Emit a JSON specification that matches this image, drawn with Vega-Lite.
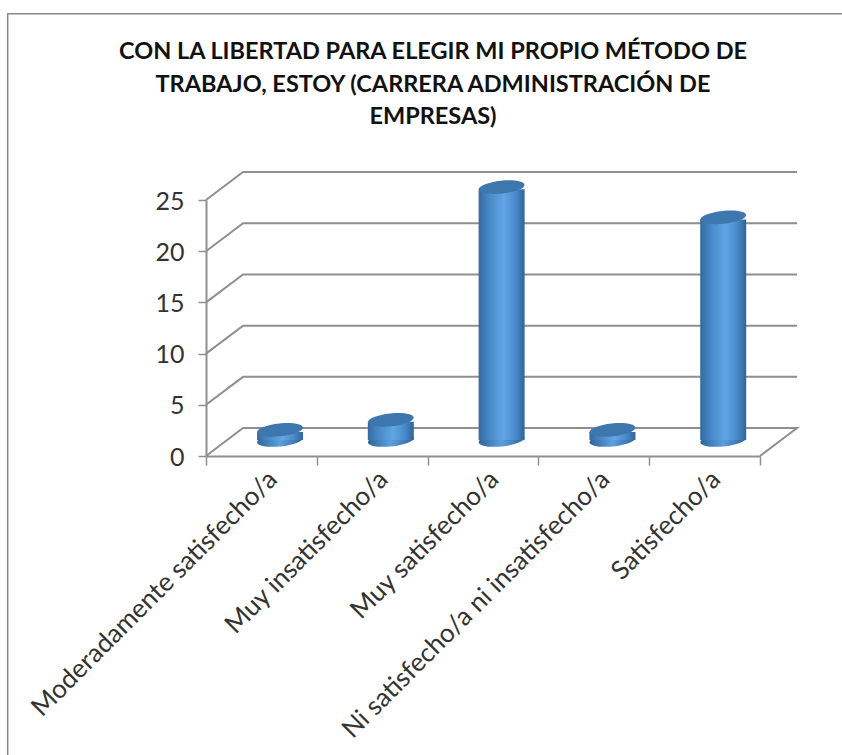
{
"$schema":"https://vega.github.io/schema/vega-lite/v6.json",
"width":554,"height":256,
"autosize":{"type":"none"},
"padding":{"left":206,"top":200,"right":82,"bottom":299},
"background":"white",
"title":{"text":["CON LA LIBERTAD PARA ELEGIR MI PROPIO MÉTODO DE","TRABAJO, ESTOY (CARRERA ADMINISTRACIÓN DE","EMPRESAS)"],"font":"Lato","fontSize":23.5,"fontWeight":"bold","color":"#111111","lineHeight":32.5,"anchor":"middle","frame":"group","dx":-50,"offset":-142,"baseline":"bottom"},
"config":{"view":{"stroke":null}},
"resolve":{"axis":{"x":"independent","y":"independent"}},
"layer":[
{"data":{"values":[{"x":-1.79,"y":-29.2},{"x":-1.79,"y":43.2},{"x":5.74,"y":43.2}]},
 "mark":{"type":"line","color":"#8a8a8a","strokeWidth":1.5,"clip":false},
 "encoding":{
  "x":{"field":"x","type":"quantitative","scale":{"domain":[0,5],"nice":false,"zero":false},
    "axis":{"title":null,"orient":"bottom","values":[0,1,2,3,4,5],"labels":false,"grid":false,"domain":true,"domainColor":"#8f8f8f","domainWidth":2,"tickColor":"#8f8f8f","tickWidth":1.5,"tickSize":9}},
  "y":{"field":"y","type":"quantitative","scale":{"domain":[0,25],"nice":false},
    "axis":{"title":null,"values":[0,5,10,15,20,25],"grid":false,"domain":true,"domainColor":"#8f8f8f","domainWidth":2,"tickColor":"#8f8f8f","tickWidth":1.5,"tickSize":8,"labelFont":"Lato","labelFontSize":25,"labelColor":"#333333","labelPadding":14,"labelOffset":1}},
  "order":{"field":"y","type":"quantitative","sort":"ascending"}
 }},
{"data":{"values":[
 {"level":0,"x":0,"y":0},{"level":0,"x":0.334,"y":2.73},{"level":0,"x":5.334,"y":2.73},{"level":0,"x":5,"y":0},
 {"level":5,"x":0,"y":5},{"level":5,"x":0.334,"y":7.73},{"level":5,"x":5.334,"y":7.73},
 {"level":10,"x":0,"y":10},{"level":10,"x":0.334,"y":12.73},{"level":10,"x":5.334,"y":12.73},
 {"level":15,"x":0,"y":15},{"level":15,"x":0.334,"y":17.73},{"level":15,"x":5.334,"y":17.73},
 {"level":20,"x":0,"y":20},{"level":20,"x":0.334,"y":22.73},{"level":20,"x":5.334,"y":22.73},
 {"level":25,"x":0,"y":25},{"level":25,"x":0.334,"y":27.73},{"level":25,"x":5.334,"y":27.73}
]},
 "mark":{"type":"line","color":"#8f8f8f","strokeWidth":2,"clip":false},
 "encoding":{
  "detail":{"field":"level"},
  "order":{"field":"__o","type":"quantitative"},
  "x":{"field":"x","type":"quantitative","axis":{"title":null,"orient":"bottom","values":[0.6,1.6,2.6,3.6,4.6],"ticks":false,"domain":false,"grid":false,"labelExpr":"['Moderadamente satisfecho/a','Muy insatisfecho/a','Muy satisfecho/a','Ni satisfecho/a ni insatisfecho/a','Satisfecho/a'][floor(datum.value)]","labelAngle":-45,"labelAlign":"right","labelBaseline":"middle","labelFont":"Lato","labelFontSize":26,"labelColor":"#333333","labelPadding":19,"labelBound":false,"labelFlush":false,"labelOverlap":false,"labelLimit":600}},
  "y":{"field":"y","type":"quantitative","axis":null}
 }},
{"data":{"name":"satisfaccion","values":[
 {"categoria":"Moderadamente satisfecho/a","orden":0,"valor":1},
 {"categoria":"Muy insatisfecho/a","orden":1,"valor":2},
 {"categoria":"Muy satisfecho/a","orden":2,"valor":25},
 {"categoria":"Ni satisfecho/a ni insatisfecho/a","orden":3,"valor":1},
 {"categoria":"Satisfecho/a","orden":4,"valor":22}
]},
 "transform":[
  {"calculate":"datum.orden+0.668","as":"xc"},
  {"calculate":"datum.xc-0.2076","as":"xl"},
  {"calculate":"datum.xc+0.2076","as":"xr"},
  {"calculate":"datum.valor*0.988+1.56","as":"tope"},
  {"calculate":"1.56","as":"base"}
 ],
 "layer":[
  {"mark":{"type":"point","filled":true,"opacity":1,"size":2116,"shape":"M-0.995 0.104A1 0.28 -6 1 1 0.995 -0.104A1 0.28 -6 1 1 -0.995 0.104Z","fill":{"gradient":"linear","x1":0,"x2":1,"y1":0,"y2":0,"stops":[{"offset":0,"color":"#2f6499"},{"offset":0.5,"color":"#5c9fdf"},{"offset":1,"color":"#2f6499"}]},"clip":false},
   "encoding":{"x":{"field":"xc","type":"quantitative","axis":null},"y":{"field":"base","type":"quantitative","axis":null}}},
  {"mark":{"type":"bar","clip":false,"fill":{"gradient":"linear","x1":0,"x2":1,"y1":0,"y2":0,"stops":[{"offset":0,"color":"#346a9f"},{"offset":0.2,"color":"#4585c4"},{"offset":0.55,"color":"#62a6e6"},{"offset":0.8,"color":"#4a8acb"},{"offset":1,"color":"#2f6499"}]}},
   "transform":[{"calculate":"datum.tope-0.2","as":"ladoTope"}],
   "encoding":{"x":{"field":"xl","type":"quantitative","axis":null},"x2":{"field":"xr"},"y":{"field":"ladoTope","type":"quantitative","axis":null},"y2":{"field":"base"}}},
  {"mark":{"type":"point","filled":true,"opacity":1,"size":2116,"shape":"M-0.995 0.104A1 0.28 -6 1 1 0.995 -0.104A1 0.28 -6 1 1 -0.995 0.104Z","fill":"#3e76ae","clip":false},
   "encoding":{"x":{"field":"xc","type":"quantitative","axis":null},"y":{"field":"tope","type":"quantitative","axis":null}}}
 ]}
]
}
